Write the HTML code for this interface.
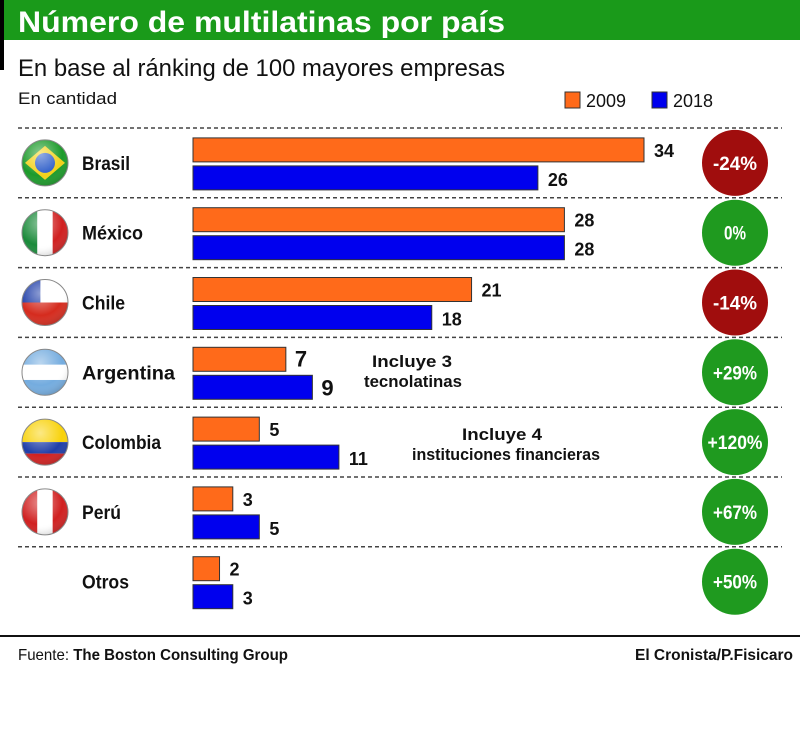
<!DOCTYPE html>
<html><head><meta charset="utf-8"><style>
html,body{margin:0;padding:0;background:#fff;width:800px;height:729px;overflow:hidden}
svg{display:block;font-family:"Liberation Sans Narrow","Liberation Sans",sans-serif}
</style></head><body>
<svg id="chart" width="800" height="729" viewBox="0 0 800 729">
<defs>
<radialGradient id="gloss" cx="0.4" cy="0.3" r="0.8"><stop offset="0" stop-color="#fff" stop-opacity="0.5"/><stop offset="0.6" stop-color="#fff" stop-opacity="0"/><stop offset="1" stop-color="#000" stop-opacity="0.25"/></radialGradient>
</defs>
<rect x="0" y="0" width="4" height="70" fill="#000"/>
<rect x="4" y="0" width="796" height="40" fill="#1a9a1a"/>
<text x="18" y="32" font-size="30" font-weight="bold" fill="#fff" textLength="487" lengthAdjust="spacingAndGlyphs">Número de multilatinas por país</text>
<text x="18" y="76" font-size="24" fill="#111" textLength="487" lengthAdjust="spacingAndGlyphs">En base al ránking de 100 mayores empresas</text>
<text x="18" y="104" font-size="17" fill="#111" textLength="99" lengthAdjust="spacingAndGlyphs">En cantidad</text>
<g>
<rect x="565" y="92" width="15" height="16" fill="#ff6a1a" stroke="#333"/>
<text x="586" y="107" font-size="18" fill="#111" textLength="40" lengthAdjust="spacingAndGlyphs">2009</text>
<rect x="652" y="92" width="15" height="16" fill="#0000ee" stroke="#333"/>
<text x="673" y="107" font-size="18" fill="#111" textLength="40" lengthAdjust="spacingAndGlyphs">2018</text>
</g>
<g id="rows"></g>
<text y="367" font-size="17" font-weight="bold" fill="#111"><tspan x="372" textLength="80" lengthAdjust="spacingAndGlyphs">Incluye 3</tspan><tspan x="364" dy="20" textLength="98" lengthAdjust="spacingAndGlyphs">tecnolatinas</tspan></text>
<text y="440" font-size="17" font-weight="bold" fill="#111"><tspan x="462" textLength="80" lengthAdjust="spacingAndGlyphs">Incluye 4</tspan><tspan x="412" dy="20" textLength="188" lengthAdjust="spacingAndGlyphs">instituciones financieras</tspan></text>
<line x1="0" y1="636" x2="800" y2="636" stroke="#111" stroke-width="2"/>
<text x="18" y="660" font-size="16" fill="#111" textLength="270" lengthAdjust="spacingAndGlyphs">Fuente: <tspan font-weight="bold">The Boston Consulting Group</tspan></text>
<text x="635" y="660" font-size="16" font-weight="bold" fill="#111" textLength="158" lengthAdjust="spacingAndGlyphs">El Cronista/P.Fisicaro</text>
</svg>
<script>
const countries=["Brasil","México","Chile","Argentina","Colombia","Perú","Otros"];
const values2009=[34,28,21,7,5,3,2];
const values2018=[26,28,18,9,11,5,3];
const changes=["-24%","0%","-14%","+29%","+120%","+67%","+50%"];
const labelWidths=[48,61,43,93,79,39,47];
const flagColors=[["#1c9a2a","#f2d21a","#2a5bc8"],["#1a8a3a","#ffffff","#d02020"],["#ffffff","#d52b1e","#1f3ea8"],["#74acdf","#ffffff","#74acdf"],["#f8d20a","#1f3ea8","#d02020"],["#d02020","#ffffff","#d02020"],null];
const NS="http://www.w3.org/2000/svg";
const x0=193,scale=(644-193)/34,top0=128,pitch=69.8;
const xs=v=>v*scale;
const g=document.getElementById('rows');
function mk(t,a,p){const e=document.createElementNS(NS,t);for(const k in a)e.setAttribute(k,a[k]);(p||g).appendChild(e);return e;}
for(let i=0;i<countries.length;i++){
 const y=top0+i*pitch, cy=y+pitch/2;
 const dl=mk('line',{x1:18,x2:782,y1:y,y2:y,stroke:'#444','stroke-width':1.5,'stroke-dasharray':'4,3'});
 
 
 if(flagColors[i]){
  const fg=mk('g',{});
  
  
  const c=flagColors[i],r=23,fx=45;
  const cid='clip'+i;
  const cp=mk('clipPath',{id:cid},fg);mk('circle',{cx:fx,cy:cy,r:r},cp);
  const inner=mk('g',{'clip-path':'url(#'+cid+')'},fg);
  if(i==2){mk('rect',{x:fx-r,y:cy-r,width:2*r,height:r,fill:c[0]},inner);mk('rect',{x:fx-r,y:cy,width:2*r,height:r,fill:c[1]},inner);mk('rect',{x:fx-r,y:cy-r,width:r*0.8,height:r,fill:c[2]},inner);}
  else if(i==0){mk('rect',{x:fx-r,y:cy-r,width:2*r,height:2*r,fill:c[0]},inner);mk('polygon',{points:`${fx-r+3},${cy} ${fx},${cy-r+6} ${fx+r-3},${cy} ${fx},${cy+r-6}`,fill:c[1]},inner);mk('circle',{cx:fx,cy:cy,r:10,fill:c[2]},inner);}
  else if(i==3){mk('rect',{x:fx-r,y:cy-r,width:2*r,height:2*r,fill:c[0]},inner);mk('rect',{x:fx-r,y:cy-r/3,width:2*r,height:2*r/3,fill:c[1]},inner);}
  else if(i==4){mk('rect',{x:fx-r,y:cy-r,width:2*r,height:r,fill:c[0]},inner);mk('rect',{x:fx-r,y:cy,width:2*r,height:r/2,fill:c[1]},inner);mk('rect',{x:fx-r,y:cy+r/2,width:2*r,height:r/2,fill:c[2]},inner);}
  else {let xx=fx-r;for(let k=0;k<3;k++){mk('rect',{x:xx,y:cy-r,width:2*r/3,height:2*r,fill:c[k]},inner);xx+=2*r/3;}}
  mk('circle',{cx:fx,cy:cy,r:r,fill:'url(#gloss)',stroke:'#888','stroke-width':1},fg);
 }
 const lb=mk('text',{x:82,y:cy+7,'font-size':19,'font-weight':'bold',fill:'#111',textLength:labelWidths[i],lengthAdjust:'spacingAndGlyphs'});
 lb.textContent=countries[i];
 
 
 const big=(i==3);
 const b1=mk('rect',{x:x0,y:cy-25,width:xs(values2009[i]),height:24,fill:'#ff6a1a',stroke:'#333','stroke-width':1});
 
 
 const b2=mk('rect',{x:x0,y:cy+3,width:xs(values2018[i]),height:24,fill:'#0000ee',stroke:'#333','stroke-width':1});
 
 
 const v1=mk('text',{x:x0+xs(values2009[i])+(big?9:10),y:cy-6,'font-size':big?22:18,'font-weight':'bold',fill:'#111'});
 v1.textContent=values2009[i];
 
 
 const v2=mk('text',{x:x0+xs(values2018[i])+(big?9:10),y:cy+23,'font-size':big?22:18,'font-weight':'bold',fill:'#111'});
 v2.textContent=values2018[i];
 
 
 const neg=changes[i].startsWith('-');
 const cc=mk('circle',{cx:735,cy:cy,r:33,fill:neg?'#a00d0d':'#1f9a1f'});
 
 
 const tl=changes[i].length*11;
 const ct=mk('text',{x:735-tl/2,y:cy+7,'font-size':19,'font-weight':'bold',fill:'#fff',textLength:tl,lengthAdjust:'spacingAndGlyphs'});
 ct.textContent=changes[i];
 
 
}
</script>
</body></html>
